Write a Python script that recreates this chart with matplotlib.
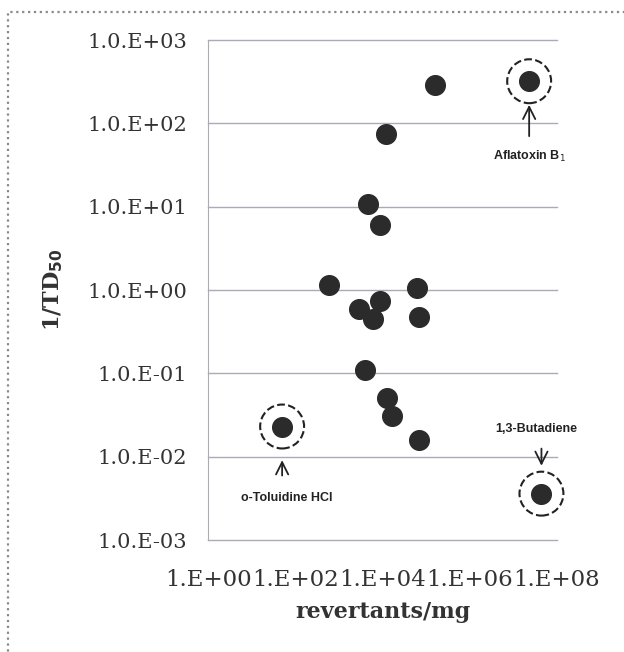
import matplotlib.pyplot as plt
from matplotlib.patches import Rectangle

# revertants/mg vs 1/TD50
rev_x = [1.6e5, 1.2e4, 4.7e3, 8.7e3, 6.0e2, 2.9e3, 8.7e3, 6.0e3,
         6.2e4, 6.9e4, 4.0e3, 1.3e4, 1.66e4, 6.9e4]
inv_td50 = [290, 75, 10.8, 6.0, 1.15, 0.59, 0.74, 0.45,
            1.05, 0.48, 0.11, 0.05, 0.031, 0.016]

# highlighted compounds
named = ["Aflatoxin B$_1$", "o-Toluidine HCl", "1,3-Butadiene"]
named_x = [2.3e7, 50, 4.4e7]
named_y = [320, 0.023, 0.0036]

y_ticks = [1e-3, 1e-2, 1e-1, 1e0, 1e1, 1e2, 1e3]
y_labels = ["1.0.E-03", "1.0.E-02", "1.0.E-01", "1.0.E+00",
            "1.0.E+01", "1.0.E+02", "1.0.E+03"]
x_ticks = [1e0, 1e2, 1e4, 1e6, 1e8]
x_labels = ["1.E+00", "1.E+02", "1.E+04", "1.E+06", "1.E+08"]

txt = "#333333"
dot = "#2b2b2b"

fig = plt.figure(figsize=(6.24, 6.52), dpi=100)
fig.patches.append(Rectangle((8 / 624, -0.1), 1.2, 1 - 12 / 652 + 0.1,
                             transform=fig.transFigure, fill=False,
                             edgecolor="#8a8a8a", linewidth=1.6, linestyle=":"))

ax = fig.add_axes([208 / 624, 1 - 540 / 652, 349 / 624, 500 / 652])
ax.set_xscale("log")
ax.set_yscale("log")
ax.set_xlim(1, 1e8)
ax.set_ylim(1e-3, 1e3)

for yt in y_ticks:
    ax.axhline(yt, color="#a9abb5", linewidth=1.0, zorder=0, clip_on=False)

ax.scatter(rev_x, inv_td50, s=200, color=dot, zorder=3)
ax.scatter(named_x, named_y, s=200, color=dot, zorder=3, clip_on=False)
ax.scatter(named_x, named_y, s=1000, facecolors="none", edgecolors="#222222",
           linewidths=1.5, linestyles="--", zorder=3, clip_on=False)

for s in ["top", "right", "bottom"]:
    ax.spines[s].set_visible(False)
ax.spines["left"].set_color("#a9abb5")

ax.set_yticks(y_ticks)
ax.set_yticklabels(y_labels)
ax.set_xticks(x_ticks)
ax.set_xticklabels(x_labels)
ax.minorticks_off()
ax.tick_params(axis="y", length=0, pad=15, labelsize=15, labelcolor=txt)
ax.tick_params(axis="x", length=0, pad=21, labelsize=16.5, labelcolor=txt)
for lab in ax.get_xticklabels() + ax.get_yticklabels():
    lab.set_family("DejaVu Serif")

ax.set_ylabel(r"1/TD$_{\mathbf{50}}$", family="DejaVu Serif", fontsize=16,
              fontweight="bold", color=txt, labelpad=16)
ax.set_xlabel("revertants/mg", family="DejaVu Serif", fontsize=16,
              fontweight="bold", color=txt, labelpad=7)

# labels and arrows for the circled compounds
arrow = dict(arrowstyle="->", color="#222222", linewidth=1.3, mutation_scale=22)
note = dict(fontsize=9, fontweight="bold", color="#222222", family="Liberation Sans",
            ha="center", stretch="condensed")
ax.annotate("", xy=(named_x[0], 180), xytext=(named_x[0], 65), arrowprops=arrow)
ax.text(named_x[0], 40, named[0], va="center", **note)
ax.annotate("", xy=(named_x[1], 0.0098), xytext=(named_x[1], 0.0055), arrowprops=arrow)
ax.text(named_x[1] * 1.3, 0.0032, named[1], va="center", **note)
ax.annotate("", xy=(named_x[2], 0.0072), xytext=(named_x[2], 0.0135), arrowprops=arrow)
ax.text(named_x[2] * 0.75, 0.0215, named[2], va="center", **note)

fig.savefig("out.png", dpi=100)
